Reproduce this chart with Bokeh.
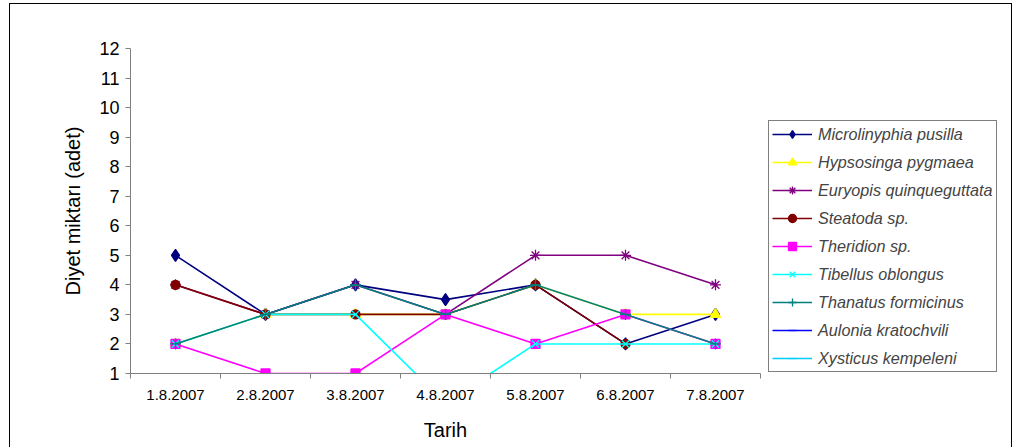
from bokeh.plotting import figure
from bokeh.models import FixedTicker, Legend, LegendItem, Range1d, InlineStyleSheet
from bokeh.embed import file_html
from bokeh.resources import INLINE

# Sampling dates
dates = ["1.8.2007", "2.8.2007", "3.8.2007", "4.8.2007",
         "5.8.2007", "6.8.2007", "7.8.2007"]

# Diet counts per species
microlinyphia = [5, 3, 4, 3.5, 4, 2, 3]
hypsosinga = [2, 3, 3, 3, 4, 3, 3]
euryopis = [4, 3, 4, 3, 5, 5, 4]
steatoda = [4, 3, 3, 3, 4, 2, float("nan")]
theridion = [2, 1, 1, 3, 2, 3, 2]
tibellus = [2, 3, 3, 0, 2, 2, 2]
thanatus = [2, 3, 4, 3, 4, 3, 2]
aulonia = [0, 0, 0, 0, 0, 0, 0]
xysticus = [0, 0, 0, 0, 0, 0, 0]

y_ticks = list(range(1, 13))

series = [
    ("Microlinyphia pusilla", microlinyphia, "#000080", "diamond", 12),
    ("Hypsosinga pygmaea", hypsosinga, "#FFFF00", "triangle", 10),
    ("Euryopis quinqueguttata", euryopis, "#800080", "asterisk", 11),
    ("Steatoda sp.", steatoda, "#800000", "circle", 9),
    ("Theridion sp.", theridion, "#FF00FF", "square", 9),
    ("Tibellus oblongus", tibellus, "#00FFFF", "x", 10),
    ("Thanatus formicinus", thanatus, "#008080", "cross", 11),
    ("Aulonia kratochvili", aulonia, "#0000FF", "dash", 6),
    ("Xysticus kempeleni", xysticus, "#00CCFF", "dash", 10),
]

FONT = "Liberation Sans"
xs = list(range(1, len(dates) + 1))

p = figure(frame_width=630, frame_height=325, output_backend="svg", toolbar_location=None,
           x_range=Range1d(0.5, len(dates) + 0.5), y_range=Range1d(1, 12),
           min_border_left=130, min_border_right=0,
           min_border_top=48, min_border_bottom=74)
p.outline_line_color = None
p.xgrid.visible = False
p.ygrid.visible = False
p.background_fill_color = "white"
p.border_fill_color = "white"

items = []
for name, vals, color, marker, size in series:
    ln = p.line(xs, vals, line_color=color, line_width=1.6)
    sc = p.scatter(xs, vals, marker=marker, size=size, fill_color=color,
                   line_color=color, line_width=1.3)
    items.append(LegendItem(label=name, renderers=[ln, sc]))

# x axis: labels at category centres, ticks at category boundaries
p.xaxis.ticker = FixedTicker(ticks=xs, minor_ticks=[i + 0.5 for i in range(len(dates) + 1)])
p.xaxis.major_label_overrides = {i: d for i, d in zip(xs, dates)}
p.xaxis.major_tick_out = 0
p.xaxis.major_tick_in = 0
p.xaxis.minor_tick_out = 5
p.xaxis.minor_tick_in = 0
p.xaxis.minor_tick_line_color = "#808080"
p.xaxis.major_label_text_font = FONT
p.xaxis.major_label_text_font_size = "15px"
p.xaxis.major_label_standoff = 11
p.xaxis.axis_label = "Tarih"
p.xaxis.axis_label_text_font = FONT
p.xaxis.axis_label_text_font_size = "20px"
p.xaxis.axis_label_text_font_style = "normal"
p.xaxis.axis_label_standoff = 16

p.yaxis.ticker = FixedTicker(ticks=y_ticks)
p.yaxis.minor_tick_out = 0
p.yaxis.minor_tick_in = 0
p.yaxis.major_tick_out = 5
p.yaxis.major_tick_in = 0
p.yaxis.major_label_text_font = FONT
p.yaxis.major_label_text_font_size = "18px"
p.yaxis.major_label_standoff = 6
p.yaxis.axis_label = "Diyet miktarı (adet)"
p.yaxis.axis_label_text_font = FONT
p.yaxis.axis_label_text_font_size = "20px"
p.yaxis.axis_label_text_font_style = "normal"
p.yaxis.axis_label_standoff = 12

for ax in (p.xaxis, p.yaxis):
    ax.axis_line_color = "#808080"
    ax.major_tick_line_color = "#808080"
    ax.major_label_text_color = "black"
    ax.axis_label_text_color = "black"

legend = Legend(items=items, location=(8, 1))
legend.border_line_color = "black"
legend.border_line_width = 1
legend.background_fill_color = "white"
legend.background_fill_alpha = 1
legend.label_text_font = FONT
legend.label_text_font_style = "italic"
legend.label_text_font_size = "16.2px"
legend.glyph_width = 40
legend.glyph_height = 20
legend.label_height = 20
legend.spacing = 8
legend.padding = 3
legend.margin = 0
legend.label_standoff = 6
p.add_layout(legend, "right")

# chart area border
p.stylesheets = [InlineStyleSheet(css="""
:host { position: relative; }
:host::after {
  content: ""; position: absolute; left: 9px; top: 3px; width: 1001px; height: 480px;
  border: 1.5px solid black; pointer-events: none; z-index: 10;
}
""")]

open("out.html", "w").write(file_html(p, INLINE))
